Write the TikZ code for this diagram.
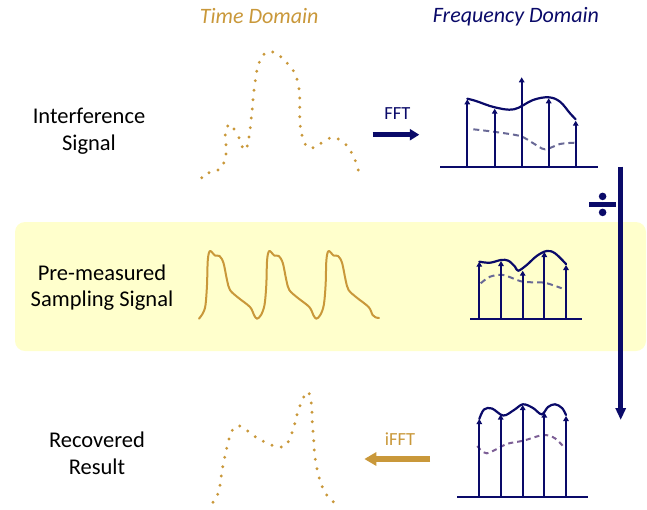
\documentclass[tikz,border=0pt]{standalone}
\usepackage{fontspec}
\setmainfont{Carlito}
\usetikzlibrary{arrows.meta}
\definecolor{gold}{RGB}{201,152,58}
\definecolor{navyc}{RGB}{10,10,105}
\definecolor{paleyel}{RGB}{255,255,204}
\definecolor{dashc}{RGB}{105,105,150}
\definecolor{dashp}{RGB}{125,95,150}
\begin{document}
\begin{tikzpicture}[x=1pt,y=-1pt,
 lbl/.style={font=\fontsize{22.5}{26.7}\selectfont, align=center, anchor=base, inner sep=0pt},
 ttl/.style={font=\fontsize{22}{26}\selectfont\itshape, anchor=base, inner sep=0pt},
 opl/.style={font=\fontsize{18.5}{20}\selectfont, anchor=base, inner sep=0pt},
 stemln/.style={navyc, line width=1.8pt, -{Triangle[width=5.5pt,length=5pt]}},
 envln/.style={navyc, line width=2.2pt, line cap=round},
 axisln/.style={navyc, line width=2pt},
 dshln/.style={dashc, line width=2pt, dash pattern=on 6pt off 4pt},
 dshpln/.style={dashp, line width=2pt, dash pattern=on 5pt off 4pt},
 dotc/.style={fill=gold, draw=none},
]
\useasboundingbox (0,0) rectangle (647,509);
% yellow band
\fill[paleyel, rounded corners=10pt] (15,222) rectangle (646,351);

% titles
\node[ttl, text=gold] (tdom) at (259.2,23.3) {Time Domain};
\node[ttl, text=navyc] (fdom) at (516,22.8) {Frequency Domain};

% row labels (anchor = baseline of last line)
\node[lbl] (lint) at (89,150) {Interference\\Signal};
\node[lbl] (lpre) at (102,306.7) {Pre-measured\\Sampling Signal};
\node[lbl] (lrec) at (97,474.5) {Recovered\\Result};

% ---- top dotted signal
\foreach \p in {(201.7,177.7),(209,172.7),(218,170),(223.7,163),(226,154),(226,144.7),(225.3,135),(227.7,126),(234,129),(239,137.7),(242.3,146.7),(247.3,146),(249,137),(250.3,127.7),(251.3,118),(252.3,109),(253,99.7),(254,90.3),(255.3,80.7),(256.7,71.3),(259.3,62.3),(264,54.3),(272.7,52),(280.7,56.7),(287.3,63.3),(293.3,70.7),(297,79.3),(299,88.7),(299.7,98),(299.7,107.3),(299.7,116.7),(300.3,126.3),(302,135.3),(305.3,144.3),(313,147.7),(321,143.3),(329.3,138.3),(338.3,139),(346,144.7),(351.3,152.3),(355.3,160.7),(358.3,170)}
  \fill[dotc] \p circle (1.6);

% ---- bottom dotted signal
\foreach \p in {(213,502.3),(217.7,494.3),(220,485.3),(221.3,476),(222.7,466.7),(224.7,457.3),(226.7,448.3),(229,439),(232.3,430.3),(239.7,426),(247.7,431),(255.3,436.7),(263.3,441.3),(272,445.3),(281.3,447),(288.3,441.7),(292,432.7),(294.7,423.7),(297,414.7),(300,405.7),(303.7,397),(309.3,393.7),(311.3,403),(312,412.3),(312.3,421.7),(313,431.3),(313.7,440.7),(314.3,450),(315.3,459.3),(317,468.7),(319.3,478),(322.3,486.7),(326.7,495),(333.3,501.7)}
  \fill[dotc] \p circle (1.6);

% ---- sampling signal (three pulses)
\draw[gold, line width=2pt, line cap=round, line join=round]
  plot[smooth, tension=0.55] coordinates {
  (199,318.7) (203,313) (205.5,305) (207,285) (207.8,260) (210,251) (215,255.5) (219.5,256) (223.5,263) (227,280) (230,290) (238,297.5) (250,307) (254,315) (257,318.7)
  (261,315) (264.5,305) (266.3,285) (267.1,260) (269.3,251) (274.3,255.5) (278.8,256) (282.8,263) (286.3,280) (289.3,290) (297.3,297.5) (309.3,307) (313.3,315) (316.3,318.7)
  (320.3,315) (323.8,305) (325.6,285) (326.4,260) (328.6,251) (333.6,255.5) (338.1,256) (342.1,263) (345.6,280) (348.6,290) (356.6,297.5) (368.6,307) (372.6,315) (375.5,317.3) (379,318)};

% ---- top spectrum
\coordinate (ta1) at (440,166.7);
\coordinate (ta2) at (598,166.7);
\draw[axisln] (ta1) -- (ta2);
\draw[envln] plot[smooth, tension=0.6] coordinates {(467.3,98.7) (476,101) (494.7,107.3) (514,109.3) (533,100) (548.7,97.3) (560,101.7) (570,113.3) (575.7,119.3)};
\draw[dshln] plot[smooth, tension=0.5] coordinates {(473.3,129.3) (493.3,131.7) (520,136) (533.3,143.3) (545,149.3) (560,144) (575,142.7)};
\foreach \i/\x/\y in {1/467.3/99.3,2/494.7/108.7,3/521.7/77.3,4/548.7/98.3,5/575.7/120.7}{
  \coordinate (tb\i) at (\x,166.7);
  \coordinate (tt\i) at (\x,\y);
  \draw[stemln] (tb\i) -- (tt\i);
}

% ---- middle spectrum
\coordinate (ma1) at (470,318.7);
\coordinate (ma2) at (581.7,318.7);
\draw[axisln] (ma1) -- (ma2);
\draw[envln] plot[smooth, tension=0.6] coordinates {(479.3,261.7) (490,262.7) (501,260) (508.3,260.7) (515,266.7) (518.3,270.7) (526.7,265) (536.7,256) (546.7,251) (555,253.3) (566,264)};
\draw[dshln] plot[smooth, tension=0.5] coordinates {(480.7,283.3) (490,276.7) (503.3,275) (522.7,281.7) (544.3,282.7) (561.7,288.3)};
\foreach \i/\x/\y in {1/479.3/261.7,2/501/261,3/522.7/270.7,4/544.3/252,5/566/265}{
  \coordinate (mb\i) at (\x,318.7);
  \coordinate (mt\i) at (\x,\y);
  \draw[stemln] (mb\i) -- (mt\i);
}

% ---- bottom spectrum
\coordinate (ba1) at (457.3,496.7);
\coordinate (ba2) at (588.3,496.7);
\draw[axisln] (ba1) -- (ba2);
\draw[envln] plot[smooth, tension=0.6] coordinates {(479.3,419) (484,409.5) (492,408.5) (503.3,415.5) (514,410) (523,404.3) (533,408) (541.7,414.3) (548,407) (555,404.3) (562,408) (566,415)};
\draw[dshpln] plot[smooth, tension=0.5] coordinates {(477.3,446) (486.7,453.3) (506.7,444) (523.3,440.7) (543.3,435) (555,438.3) (565,448.3)};
\foreach \i/\x/\y in {1/479.3/419,2/500.7/414.5,3/522.7/405,4/544.3/412.5,5/566/416}{
  \coordinate (bb\i) at (\x,496.7);
  \coordinate (bt\i) at (\x,\y);
  \draw[stemln] (bb\i) -- (bt\i);
}

% ---- FFT arrow
\coordinate (fftS) at (372.7,134.7);
\coordinate (fftE) at (419.3,134.7);
\draw[navyc, line width=5.5pt, -{Triangle[width=11pt,length=9.5pt]}] (fftS) -- (fftE);
\node[opl, text=navyc] (fftl) at (397.3,119.3) {FFT};

% ---- iFFT arrow
\coordinate (ifS) at (430,459);
\coordinate (ifE) at (364.3,459);
\draw[gold, line width=6.5pt, -{Triangle[width=13pt,length=12pt]}] (ifS) -- (ifE);
\node[opl, text=gold] (ifftl) at (400,445) {iFFT};

% ---- divide arrow
\coordinate (dvS) at (620.7,166.7);
\coordinate (dvE) at (620.7,420);
\draw[navyc, line width=5pt, -{Triangle[width=10pt,length=12pt]}] (dvS) -- (dvE);
\fill[navyc] (589.3,201.6) rectangle (616,206.6);
\fill[navyc] (602.6,196.4) circle (3.8);
\fill[navyc] (602.6,212.4) circle (3.8);
\end{tikzpicture}
\end{document}
